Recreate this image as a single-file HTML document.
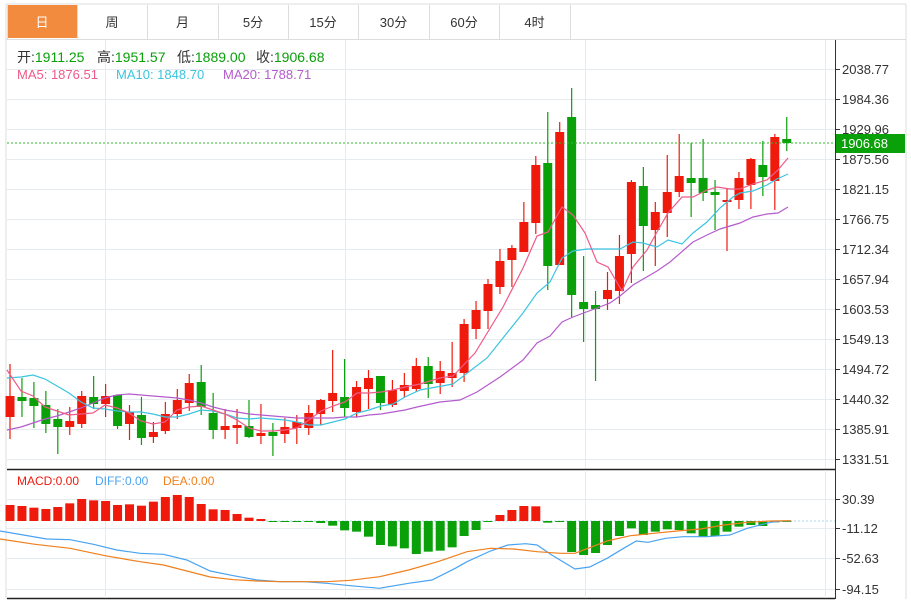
<!DOCTYPE html>
<html><head><meta charset="utf-8"><style>
body{margin:0;background:#fff;width:911px;height:600px;overflow:hidden;font-family:"Liberation Sans","Noto Sans CJK SC",sans-serif}
</style></head><body>
<svg id="s" width="911" height="600" xmlns="http://www.w3.org/2000/svg" style="position:absolute;left:0;top:0;font-family:'Liberation Sans','Noto Sans CJK SC',sans-serif">
</svg>
<script>
var s=document.getElementById('s');var h='';
function L(x1,y1,x2,y2,c,w,d){h+='<line x1="'+x1+'" y1="'+y1+'" x2="'+x2+'" y2="'+y2+'" stroke="'+c+'" stroke-width="'+(w||1)+'"'+(d?' stroke-dasharray="'+d+'"':'')+'/>';}
function R(x,y,w,hh,c){h+='<rect x="'+x+'" y="'+y+'" width="'+w+'" height="'+hh+'" fill="'+c+'"/>';}
function T(x,y,t,c,sz,a){h+='<text x="'+x+'" y="'+y+'" fill="'+c+'" font-size="'+(sz||13)+'"'+(a?' text-anchor="'+a+'"':'')+'>'+t+'</text>';}
function P(pts,c,w){h+='<polyline fill="none" stroke="'+c+'" stroke-width="'+(w||1.2)+'" points="'+pts.map(function(p){return p[0].toFixed(1)+','+p[1].toFixed(1)}).join(' ')+'"/>';}
L(6,4,906,4,'#ddd');L(906,4,906,599,'#ddd');L(6,4,6,599,'#ddd');
var tb=[7,77,147,218,288,358,429,499,570],tn=['日','周','月','5分','15分','30分','60分','4时'];
R(7,5,70,33,'#f38b3e');
for(var i=0;i<tb.length;i++)L(tb[i]+.5,5,tb[i]+.5,39,'#ddd');
L(6,39.5,906,39.5,'#ddd');
for(i=0;i<8;i++)T((tb[i]+tb[i+1])/2,27,tn[i],i==0?'#fff':'#333',13,'middle');
for(i=0;i<14;i++){var y=69+i*30;L(7,y+.5,835,y+.5,'#e6ebf0');}
[105,345,585,825].forEach(function(x){L(x+.5,40,x+.5,469,'#e6ebf0');});
L(835.5,40,835.5,599,'#333');
var lab=['2038.77','1984.36','1929.96','1875.56','1821.15','1766.75','1712.34','1657.94','1603.53','1549.13','1494.72','1440.32','1385.91','1331.51'];
for(i=0;i<14;i++){var y=69+i*30;L(835,y+.5,840,y+.5,'#333');T(842,y+5,lab[i],'#333',13);}
var C=[[396,417,364,439,'r'],[397,401,378,417,'g'],[398,406,382,428,'g'],[405,424,391,433,'g'],[419,427,409,454,'g'],[421,427,407,435,'r'],[396,424,391,428,'r'],[397,404,376,409,'g'],[396,404,384,417,'r'],[395,426,395,429,'g'],
[412,424,405,440,'r'],[415,438,397,445,'g'],[432,437,422,443,'r'],[414,431,402,434,'r'],[400,414,389,419,'r'],[383,403,374,411,'r'],[382,407,365,415,'g'],[413,430,393,439,'g'],[426,430,409,439,'r'],[425,428,409,444,'r'],
[426,437,400,438,'g'],[433,436,404,444,'r'],[432,436,423,456,'g'],[427,434,418,443,'r'],[422,428,415,444,'r'],[413,428,405,435,'r'],[400,414,399,425,'r'],[393,401,350,412,'r'],[397,408,359,417,'g'],[387,412,381,417,'r'],
[378,389,370,409,'r'],[376,403,376,410,'g'],[390,405,380,407,'r'],[385,391,373,398,'r'],[366,389,358,392,'r'],[366,384,357,398,'g'],[371,383,361,394,'r'],[373,378,342,387,'r'],[324,373,319,382,'r'],[310,329,301,339,'r'],
[284,311,279,329,'r'],[261,287,249,294,'r'],[248,260,245,287,'r'],[222,252,202,252,'r'],[165,223,156,234,'r'],[163,266,112,290,'g'],[132,265,122,265,'r'],[117,295,88,317,'g'],[302,309,256,342,'g'],[305,309,291,381,'g'],
[290,299,272,310,'r'],[256,291,235,304,'r'],[182,254,180,283,'r'],[186,226,167,271,'g'],[212,230,202,266,'r'],[192,213,155,237,'r'],[176,192,134,197,'r'],[178,183,143,217,'g'],[178,193,139,201,'g'],[192,195,180,230,'g'],
[200,202,189,251,'r'],[178,200,172,209,'r'],[159,185,158,209,'r'],[165,177,141,196,'g'],[137,181,134,210,'r'],[139,143,117,151,'g']];
var RED='#f01a0c',GRN='#0aa00a';
function cx(i){return 10+i*11.95;}
C.forEach(function(c,i){var x=cx(i),col=c[4]=='r'?RED:GRN;L(x,c[2],x,c[3],col,1.2);R(x-4.5,c[0],9,Math.max(2,c[1]-c[0]),col);});
var M5=[[7,370],[21,391],[33,396],[45,407],[57,411],[69,415],[81,414],[93,413],[105,405],[117,408],[129,413],[141,421],[153,424],[165,422],[177,410],[189,407],[201,406],[213,410],[225,414],[237,420],[249,428],[261,431],[273,431],[285,430],[297,428],[309,420],[321,411],[333,406],[345,402],[357,393],[369,393],[381,392],[393,390],[405,387],[420,384],[440,378],[453,376],[475,353],[503,307],[523,268],[537,236],[548,232],[562,207],[573,215],[585,233],[597,262],[608,267],[622,291],[633,267],[647,250],[657,232],[668,213],[682,197],[693,197],[707,190],[717,187],[730,189],[740,189],[753,184],[767,180],[778,170],[788,158]];
var M10=[[7,378],[21,377],[33,375],[45,379],[57,386],[69,393],[81,402],[93,408],[105,409],[117,411],[129,412],[141,412],[153,414],[165,417],[177,417],[189,414],[201,410],[213,411],[225,414],[237,418],[249,419],[261,418],[273,419],[285,420],[297,422],[309,425],[321,425],[333,422],[345,419],[357,413],[369,410],[381,406],[393,404],[405,397],[420,390],[453,384],[487,358],[523,313],[537,293],[550,282],[562,258],[573,251],[587,249],[620,249],[633,242],[643,243],[657,247],[668,240],[682,244],[693,233],[707,222],[720,208],[733,197],[740,193],[753,191],[767,185],[777,179],[788,174]];
var M20=[[7,430],[21,427],[33,423],[45,419],[57,416],[69,412],[81,408],[93,403],[105,398],[117,395],[129,394],[141,395],[153,396],[165,397],[177,398],[189,400],[201,403],[213,407],[225,410],[237,412],[249,414],[261,415],[273,416],[285,417],[297,418],[309,418],[321,418],[333,418],[345,417],[357,417],[369,415],[381,414],[393,412],[405,410],[417,407],[440,402],[460,400],[477,392],[500,377],[523,360],[537,343],[550,336],[562,322],[573,317],[597,308],[610,303],[620,296],[633,285],[657,271],[670,262],[693,242],[707,235],[720,229],[740,223],[753,217],[767,214],[778,213],[788,207]];
P(M20,'#b45ccc');P(M10,'#3cc4e0');P(M5,'#ee5b8a');
L(7,143,835,143,'#2dbb2d',1,'2,2');
R(836,134,69,19,'#0aa00a');T(841,148,'1906.68','#fff',13);
h+='<text y="62" font-size="14"><tspan x="17" fill="#333">开:</tspan><tspan fill="#0aa00a">1911.25</tspan><tspan x="97" fill="#333">高:</tspan><tspan fill="#0aa00a">1951.57</tspan><tspan x="177" fill="#333">低:</tspan><tspan fill="#0aa00a">1889.00</tspan><tspan x="256" fill="#333">收:</tspan><tspan fill="#0aa00a">1906.68</tspan></text>';
T(17,79,'MA5: 1876.51','#ee5b8a',13);T(116,79,'MA10: 1848.70','#3cc4e0',13);T(223,79,'MA20: 1788.71','#b45ccc',13);
L(7,469.5,835,469.5,'#222',1.5);L(7,598.5,835,598.5,'#222',1.5);
[499,528,558,589].forEach(function(y,i){L(7,y+.5,835,y+.5,'#e6ebf0');L(835,y+.5,840,y+.5,'#333');T(842,y+5,['30.39','-11.12','-52.63','-94.15'][i],'#333',13);});
[105,345,585,825].forEach(function(x){L(x+.5,470,x+.5,598,'#e6ebf0');});
T(17,485,'MACD:0.00','#f01a0c',12);T(95,485,'DIFF:0.00','#4aa3f0',12);T(163,485,'DEA:0.00','#f07f1c',12);
var Z=521;
L(262,Z,835,Z,'#a9d4ea',1,'2,2');
var bars={};var rt=[120,123,128,132,126,115,102,106,108,120,118,122,110,96,90,96,117,133,135,147,158,162];
rt.forEach(function(p,i){bars[i]=465+p/3;});
bars[22]=522;bars[23]=522;bars[24]=522;bars[25]=522;bars[26]=523;
var gb={27:182,28:196,29:200,30:215,31:240,32:244,33:250,34:267,35:260,36:257,37:247,38:213,39:195,40:170,41:150,42:135,43:123,44:124,45:173,46:168,47:261,48:270,49:264,50:240,51:213,52:190,53:210,54:200,55:193,56:195,57:205,58:215,59:213,60:200,61:185,62:180,63:183,64:172,65:168};
for(var k in gb)bars[k]=465+gb[k]/3;
for(i=0;i<66;i++){var y=bars[i];if(y===undefined)continue;var x=cx(i);if(y<Z){R(x-4.5,y,9,Z-y,RED);}else{R(x-4.5,Z,9,Math.max(1,y-Z),GRN);}}
function tr(a){return a.map(function(p){return [p[0]/1.713,465+p[1]/3];});}
var DIFF=[[0,198],[40,210],[80,222],[120,224],[160,238],[200,255],[240,265],[280,268],[320,285],[360,318],[400,332],[440,345],[480,350],[520,350],[560,355],[600,362],[650,370],[700,355],[740,345],[780,310],[800,290],[840,258],[870,240],[900,236],[920,240],[945,270],[985,312],[1010,306],[1040,280],[1070,248],[1090,228],[1110,232],[1140,220],[1170,215],[1210,215],[1250,210],[1280,190],[1320,172],[1340,168],[1355,168]];
var DEA=[[0,222],[60,238],[120,250],[180,272],[240,290],[280,300],[320,318],[360,336],[400,344],[440,348],[480,350],[520,350],[560,350],[600,346],[650,335],[700,315],[750,290],[800,260],[840,250],[880,252],[920,260],[960,265],[985,265],[1010,248],[1040,228],[1080,212],[1120,205],[1160,198],[1200,192],[1240,180],[1280,172],[1320,168],[1355,167]];
P(tr(DIFF),'#4aa3f0');P(tr(DEA),'#f07f1c');
s.innerHTML=h;
</script>
</body></html>
